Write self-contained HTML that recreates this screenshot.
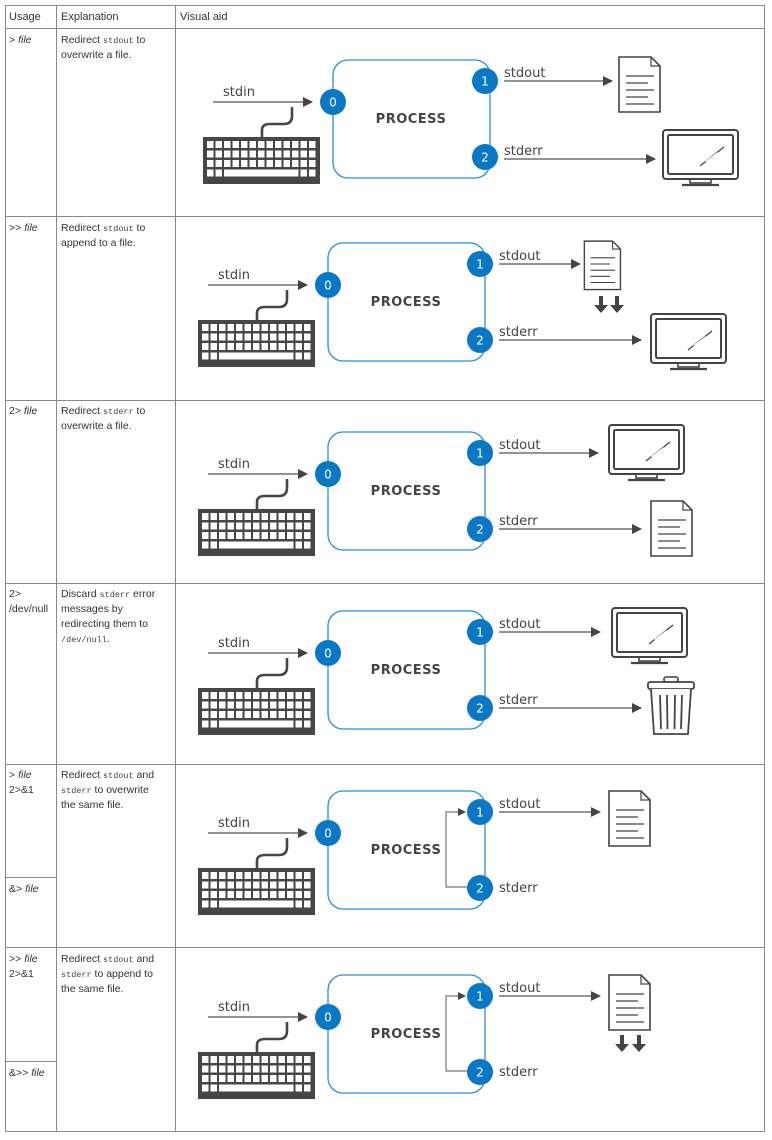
<!DOCTYPE html>
<html><head><meta charset="utf-8"><style>
html,body{margin:0;padding:0;background:#fff}
svg{display:block}
.t{font-family:"Liberation Sans",sans-serif;font-size:10.5px;fill:#333}
.m{font-family:"Liberation Mono",monospace;font-size:8.5px;fill:#444}
.h{font-family:"Liberation Sans",sans-serif;font-size:11px;fill:#333}
.l{font-family:"DejaVu Sans","Liberation Sans",sans-serif;font-size:13px;fill:#444}
.p{font-family:"DejaVu Sans","Liberation Sans",sans-serif;font-size:13px;font-weight:bold;fill:#444;letter-spacing:.5px}
.n{font-family:"DejaVu Sans","Liberation Sans",sans-serif;font-size:12px;fill:#fff}
</style></head><body>
<svg width="772" height="1140" viewBox="0 0 772 1140" xmlns="http://www.w3.org/2000/svg">
<defs>
<marker id="ah" markerWidth="10" markerHeight="10" refX="9" refY="5" orient="auto" markerUnits="userSpaceOnUse">
<path d="M0,0 L10,5 L0,10 Z" fill="#444"/></marker>
<marker id="ah2" markerWidth="8" markerHeight="8" refX="7" refY="4" orient="auto" markerUnits="userSpaceOnUse">
<path d="M0,0 L8,4 L0,8 Z" fill="#444"/></marker>
<g id="kb">
<rect x="0" y="0" width="117" height="47" fill="#464646"/>
<g fill="#fff">
<g id="kr"><rect x="4" y="4" width="6.5" height="7"/><rect x="12.5" y="4" width="6.5" height="7"/><rect x="21" y="4" width="6.5" height="7"/><rect x="29.5" y="4" width="6.5" height="7"/><rect x="38" y="4" width="6.5" height="7"/><rect x="46.5" y="4" width="6.5" height="7"/><rect x="55" y="4" width="6.5" height="7"/><rect x="63.5" y="4" width="6.5" height="7"/><rect x="72" y="4" width="6.5" height="7"/><rect x="80.5" y="4" width="6.5" height="7"/><rect x="89" y="4" width="6.5" height="7"/><rect x="97.5" y="4" width="6.5" height="7"/><rect x="106" y="4" width="6.5" height="7"/></g>
<use href="#kr" y="9.5"/><use href="#kr" y="19"/>
<rect x="4" y="32.5" width="6.5" height="7"/><rect x="12.5" y="32.5" width="6.5" height="7"/><rect x="21" y="32.5" width="74.5" height="7"/><rect x="97.5" y="32.5" width="6.5" height="7"/><rect x="106" y="32.5" width="6.5" height="7"/>
</g></g>
<g id="doc">
<path d="M1,1 L33,1 L42,10 L42,56 L1,56 Z" fill="#fff" stroke="#444" stroke-width="1.6"/>
<path d="M33,1 L33,10 L42,10" fill="none" stroke="#444" stroke-width="1.2"/>
<g stroke="#444" stroke-width="1.2"><line x1="8" y1="20" x2="36" y2="20"/><line x1="8" y1="27" x2="30" y2="27"/><line x1="8" y1="34" x2="36" y2="34"/><line x1="8" y1="41" x2="30" y2="41"/><line x1="8" y1="48" x2="36" y2="48"/></g>
</g>
<g id="mon">
<rect x="1" y="1" width="75" height="49" rx="3" fill="#fff" stroke="#444" stroke-width="2"/>
<rect x="6" y="6" width="65" height="39" rx="1.5" fill="none" stroke="#444" stroke-width="2"/>
<line x1="38" y1="37" x2="62" y2="18" stroke="#444" stroke-width="1.3"/>
<line x1="44" y1="33" x2="56" y2="24" stroke="#fff" stroke-width="2"/>
<rect x="28" y="50" width="21" height="4" fill="none" stroke="#444" stroke-width="1.6"/>
<line x1="20" y1="56" x2="57" y2="56" stroke="#444" stroke-width="2.2"/>
</g>
<g id="dn"><path d="M3,0 h4 v9 h5 l-7,8 l-7,-8 h5 z" fill="#444" transform="translate(-2,0)"/></g>
<g id="trash">
<rect x="17" y="0" width="14" height="5" rx="2" fill="none" stroke="#444" stroke-width="1.6"/>
<rect x="1" y="5" width="46" height="7" rx="2" fill="#fff" stroke="#444" stroke-width="1.8"/>
<path d="M4,12 L7,57 L41,57 L44,12" fill="#fff" stroke="#444" stroke-width="1.8"/>
<g stroke="#444" stroke-width="1.8"><line x1="13" y1="18" x2="14" y2="52"/><line x1="20" y1="18" x2="20.5" y2="52"/><line x1="28" y1="18" x2="27.5" y2="52"/><line x1="35" y1="18" x2="34" y2="52"/></g>
</g>
<g id="base">
<line x1="208" y1="285" x2="307" y2="285" stroke="#555" stroke-width="1.3" marker-end="url(#ah)"/>
<text class="l" x="218" y="279">stdin</text>
<path d="M257,320 L257,313 Q257,307 265,307 L279,307 Q287,307 287,299 L287,290" fill="none" stroke="#464646" stroke-width="2.6"/>
<use href="#kb" x="198" y="320"/>
<rect x="328" y="243" width="157" height="118" rx="15" fill="#fff" stroke="#2a8fd2" stroke-width="1.3"/>
<text class="p" x="406" y="306" text-anchor="middle">PROCESS</text>
<circle cx="328" cy="285" r="13" fill="#0a78c5"/><text class="n" x="328" y="289.5" text-anchor="middle">0</text>
<circle cx="480" cy="264" r="13" fill="#0a78c5"/><text class="n" x="480" y="268.5" text-anchor="middle">1</text>
<circle cx="480" cy="340" r="13" fill="#0a78c5"/><text class="n" x="480" y="344.5" text-anchor="middle">2</text>
<text class="l" x="499" y="260">stdout</text>
</g>
<g id="loop">
<path d="M467,339 L446,339 L446,264 L465,264" fill="none" stroke="#777" stroke-width="1.2" marker-end="url(#ah2)"/>
<text class="l" x="499" y="344">stderr</text>
</g>
</defs>

<!-- table -->
<g stroke="#8a8a8a" stroke-width="1" fill="none">
<rect x="5.5" y="5.5" width="759" height="1126"/>
<line x1="56.5" y1="5" x2="56.5" y2="1132"/>
<line x1="175.5" y1="5" x2="175.5" y2="1132"/>
<line x1="5" y1="28.5" x2="765" y2="28.5"/>
<line x1="5" y1="216.5" x2="765" y2="216.5"/>
<line x1="5" y1="400.5" x2="765" y2="400.5"/>
<line x1="5" y1="583.5" x2="765" y2="583.5"/>
<line x1="5" y1="764.5" x2="765" y2="764.5"/>
<line x1="5" y1="947.5" x2="765" y2="947.5"/>
<line x1="5" y1="877.5" x2="56" y2="877.5"/>
<line x1="5" y1="1061.5" x2="56" y2="1061.5"/>
</g>
<text class="h" x="9" y="20">Usage</text>
<text class="h" x="61" y="20">Explanation</text>
<text class="h" x="180" y="20">Visual aid</text>

<text class="t" x="9" y="43">&gt; <tspan font-style="italic">file</tspan></text>
<text class="t" x="61" y="43">Redirect <tspan class="m">stdout</tspan> to</text>
<text class="t" x="61" y="58">overwrite a file.</text>

<text class="t" x="9" y="231">&gt;&gt; <tspan font-style="italic">file</tspan></text>
<text class="t" x="61" y="231">Redirect <tspan class="m">stdout</tspan> to</text>
<text class="t" x="61" y="246">append to a file.</text>

<text class="t" x="9" y="414">2&gt; <tspan font-style="italic">file</tspan></text>
<text class="t" x="61" y="414">Redirect <tspan class="m">stderr</tspan> to</text>
<text class="t" x="61" y="429">overwrite a file.</text>

<text class="t" x="9" y="597">2&gt;</text>
<text class="t" x="9" y="612">/dev/null</text>
<text class="t" x="61" y="597">Discard <tspan class="m">stderr</tspan> error</text>
<text class="t" x="61" y="612">messages by</text>
<text class="t" x="61" y="627">redirecting them to</text>
<text class="t" x="61" y="642"><tspan class="m">/dev/null</tspan>.</text>

<text class="t" x="9" y="778">&gt; <tspan font-style="italic">file</tspan></text>
<text class="t" x="9" y="793">2&gt;&amp;1</text>
<text class="t" x="9" y="892">&amp;&gt; <tspan font-style="italic">file</tspan></text>
<text class="t" x="61" y="778">Redirect <tspan class="m">stdout</tspan> and</text>
<text class="t" x="61" y="793"><tspan class="m">stderr</tspan> to overwrite</text>
<text class="t" x="61" y="808">the same file.</text>

<text class="t" x="9" y="962">&gt;&gt; <tspan font-style="italic">file</tspan></text>
<text class="t" x="9" y="977">2&gt;&amp;1</text>
<text class="t" x="9" y="1076">&amp;&gt;&gt; <tspan font-style="italic">file</tspan></text>
<text class="t" x="61" y="962">Redirect <tspan class="m">stdout</tspan> and</text>
<text class="t" x="61" y="977"><tspan class="m">stderr</tspan> to append to</text>
<text class="t" x="61" y="992">the same file.</text>

<!-- row1 -->
<g transform="translate(5,-183)">
<use href="#base"/>
<line x1="499" y1="264" x2="607" y2="264" stroke="#555" stroke-width="1.3" marker-end="url(#ah)"/>
<use href="#doc" x="613" y="239"/>
<text class="l" x="499" y="338">stderr</text>
<line x1="499" y1="342" x2="650" y2="342" stroke="#555" stroke-width="1.3" marker-end="url(#ah)"/>
<use href="#mon" x="657" y="312"/>
</g>
<!-- row2 -->
<g>
<use href="#base"/>
<line x1="499" y1="264" x2="580" y2="264" stroke="#555" stroke-width="1.3" marker-end="url(#ah)"/>
<use href="#doc" x="583" y="240" transform="translate(587,242) scale(0.88) translate(-587,-242)"/>
<use href="#dn" x="598" y="296"/><use href="#dn" x="614" y="296"/>
<text class="l" x="499" y="336">stderr</text>
<line x1="499" y1="340" x2="641" y2="340" stroke="#555" stroke-width="1.3" marker-end="url(#ah)"/>
<use href="#mon" x="650" y="313"/>
</g>
<!-- row3 -->
<g transform="translate(0,189)">
<use href="#base"/>
<line x1="499" y1="264" x2="598" y2="264" stroke="#555" stroke-width="1.3" marker-end="url(#ah)"/>
<use href="#mon" x="608" y="235"/>
<text class="l" x="499" y="336">stderr</text>
<line x1="499" y1="340" x2="641" y2="340" stroke="#555" stroke-width="1.3" marker-end="url(#ah)"/>
<use href="#doc" x="650" y="311"/>
</g>
<!-- row4 -->
<g transform="translate(0,368)">
<use href="#base"/>
<line x1="499" y1="264" x2="600" y2="264" stroke="#555" stroke-width="1.3" marker-end="url(#ah)"/>
<use href="#mon" x="611" y="239"/>
<text class="l" x="499" y="336">stderr</text>
<line x1="499" y1="340" x2="641" y2="340" stroke="#555" stroke-width="1.3" marker-end="url(#ah)"/>
<use href="#trash" x="647" y="309"/>
</g>
<!-- row5 -->
<g transform="translate(0,548)">
<use href="#base"/>
<use href="#loop"/>
<line x1="499" y1="264" x2="600" y2="264" stroke="#555" stroke-width="1.3" marker-end="url(#ah)"/>
<use href="#doc" x="608" y="242"/>
</g>
<!-- row6 -->
<g transform="translate(0,732)">
<use href="#base"/>
<use href="#loop"/>
<line x1="499" y1="264" x2="600" y2="264" stroke="#555" stroke-width="1.3" marker-end="url(#ah)"/>
<use href="#doc" x="608" y="242"/>
<use href="#dn" x="619" y="303"/><use href="#dn" x="636" y="303"/>
</g>
</svg>
</body></html>
